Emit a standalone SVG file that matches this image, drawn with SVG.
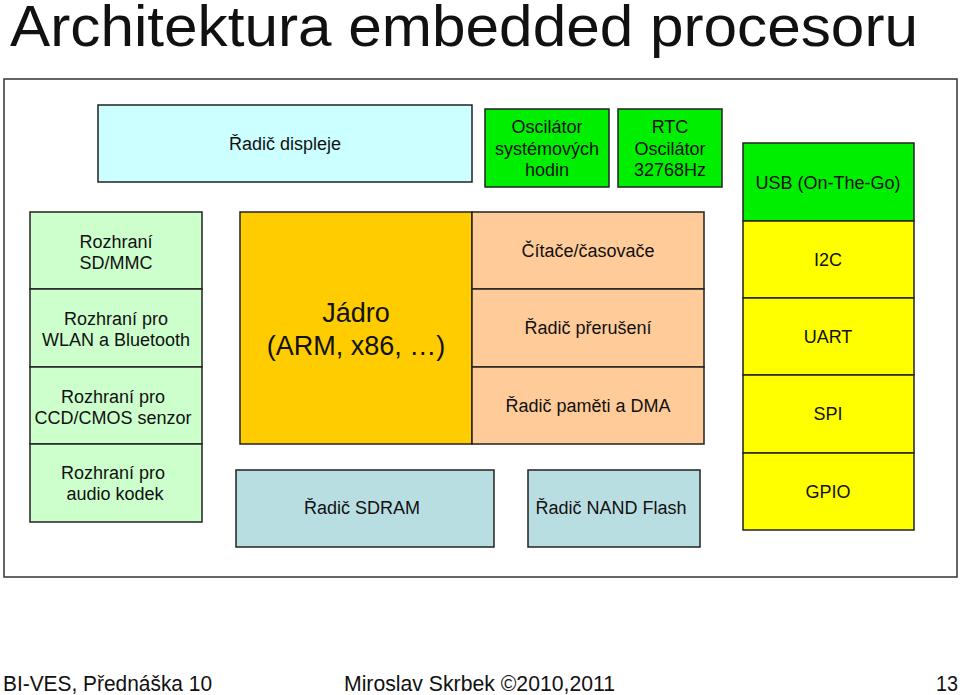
<svg xmlns="http://www.w3.org/2000/svg" width="960" height="695" viewBox="0 0 960 695">
<style>
text{font-family:"Liberation Sans",Arial,sans-serif;fill:#111;text-anchor:middle}
.b{stroke:#222;stroke-width:1.5}
.t{font-size:18px}
.cy{fill:#CCFFFF}.gr{fill:#00EE00}.lg{fill:#CCFFCC}.or{fill:#FFCC00}.pe{fill:#FFCC99}.ye{fill:#FFFF00}.bl{fill:#B9DEE2}
</style>
<rect width="960" height="695" fill="#fff"/>
<text x="10" y="46" font-size="58" style="text-anchor:start" textLength="908" lengthAdjust="spacingAndGlyphs">Architektura embedded procesoru</text>
<rect x="4" y="79" width="953" height="498" fill="#fff" stroke="#333" stroke-width="1.5"/>
<g id="displej"><rect class="b cy" x="98" y="105" width="374" height="77"/><text class="t" x="285" y="150">Řadič displeje</text></g>
<g id="osc"><rect class="b gr" x="485" y="109" width="124" height="78"/><text class="t" x="547" y="133">Oscilátor</text><text class="t" x="547" y="155">systémových</text><text class="t" x="547" y="176">hodin</text></g>
<g id="rtc"><rect class="b gr" x="618" y="109" width="104" height="78"/><text class="t" x="670" y="133">RTC</text><text class="t" x="670" y="155">Oscilátor</text><text class="t" x="670" y="176">32768Hz</text></g>
<g id="usb"><rect class="b gr" x="743" y="143" width="171" height="78"/><text class="t" x="828" y="189">USB (On-The-Go)</text></g>
<g id="i2c"><rect class="b ye" x="743" y="221" width="171" height="77"/><text class="t" x="828" y="266">I2C</text></g>
<g id="uart"><rect class="b ye" x="743" y="298" width="171" height="77"/><text class="t" x="828" y="343">UART</text></g>
<g id="spi"><rect class="b ye" x="743" y="375" width="171" height="78"/><text class="t" x="828" y="420">SPI</text></g>
<g id="gpio"><rect class="b ye" x="743" y="453" width="171" height="77"/><text class="t" x="828" y="498">GPIO</text></g>
<g id="sdmmc"><rect class="b lg" x="30" y="212" width="172" height="77"/><text class="t" x="116" y="248">Rozhraní</text><text class="t" x="116" y="269">SD/MMC</text></g>
<g id="wlan"><rect class="b lg" x="30" y="289" width="172" height="78"/><text class="t" x="116" y="325">Rozhraní pro</text><text class="t" x="116" y="346">WLAN  a Bluetooth</text></g>
<g id="ccd"><rect class="b lg" x="30" y="367" width="172" height="77"/><text class="t" x="113" y="403">Rozhraní pro</text><text class="t" x="113" y="424">CCD/CMOS senzor</text></g>
<g id="audio"><rect class="b lg" x="30" y="444" width="172" height="78"/><text class="t" x="113" y="479">Rozhraní pro</text><text class="t" x="115" y="500">audio kodek</text></g>
<g id="jadro"><rect class="b or" x="240" y="212" width="232" height="232"/><text x="356" y="322" font-size="27">Jádro</text><text x="356" y="355" font-size="27">(ARM, x86, …)</text></g>
<g id="citace"><rect class="b pe" x="472" y="212" width="232" height="77"/><text class="t" x="588" y="257">Čítače/časovače</text></g>
<g id="preruseni"><rect class="b pe" x="472" y="289" width="232" height="78"/><text class="t" x="588" y="334">Řadič přerušení</text></g>
<g id="dma"><rect class="b pe" x="472" y="367" width="232" height="77"/><text class="t" x="588" y="412">Řadič paměti a DMA</text></g>
<g id="sdram"><rect class="b bl" x="236" y="470" width="258" height="77"/><text class="t" x="362" y="514">Řadič SDRAM</text></g>
<g id="nand"><rect class="b bl" x="528" y="470" width="172" height="77"/><text class="t" x="611" y="514">Řadič NAND Flash</text></g>
<g id="connectors"></g>
<text x="3" y="691" font-size="22" style="text-anchor:start" textLength="209" lengthAdjust="spacingAndGlyphs">BI-VES, Přednáška 10</text>
<text x="344" y="691" font-size="22" style="text-anchor:start" textLength="271" lengthAdjust="spacingAndGlyphs">Miroslav Skrbek ©2010,2011</text>
<text x="936" y="691" font-size="22" style="text-anchor:start" textLength="22" lengthAdjust="spacingAndGlyphs">13</text>
</svg>
